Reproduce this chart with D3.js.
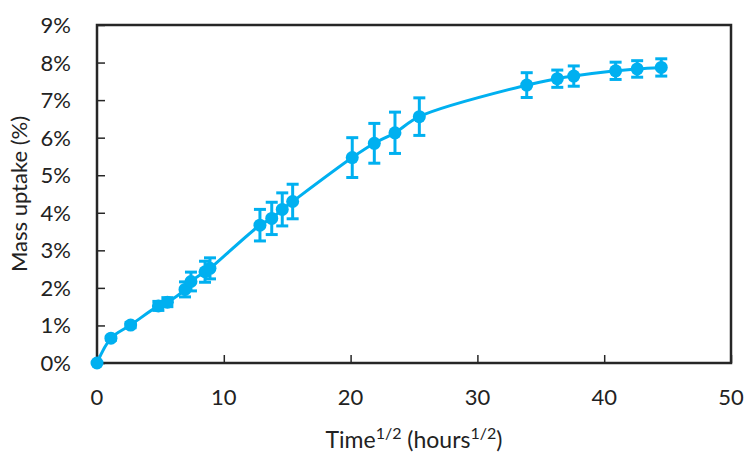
<!DOCTYPE html>
<html>
<head>
<meta charset="utf-8">
<script src="https://cdn.jsdelivr.net/npm/d3@7"></script>
<style>
  body { margin: 0; background: #fff; }
  text { font-family: Lato, "Open Sans", sans-serif; fill: #222; }
</style>
</head>
<body>
<div id="plot"></div>
<script>
// sqrt(time) in hours^1/2
const timeRoot = [0, 1.1, 2.65, 4.84, 5.55, 6.94, 7.41, 8.52, 8.91, 12.85, 13.78, 14.61, 15.43,
                  20.13, 21.87, 23.5, 25.42, 33.89, 36.3, 37.6, 40.9, 42.6, 44.5];
// mass uptake, %
const uptake = [0, 0.66, 1.01, 1.52, 1.62, 1.96, 2.17, 2.43, 2.52, 3.67, 3.85, 4.09, 4.30,
                5.47, 5.85, 6.13, 6.56, 7.40, 7.57, 7.64, 7.78, 7.83, 7.87];
// error, %
const uptakeErr = [0, 0.05, 0.07, 0.12, 0.12, 0.2, 0.25, 0.28, 0.28, 0.42, 0.43, 0.44, 0.46,
                   0.53, 0.53, 0.55, 0.5, 0.33, 0.23, 0.27, 0.23, 0.22, 0.23];
const xTicks = [0, 10, 20, 30, 40, 50];
const yTicks = [0, 1, 2, 3, 4, 5, 6, 7, 8, 9];

const width = 752, height = 457;
const margin = {top: 25, right: 21, bottom: 94, left: 97};
const blue = '#00B0F0';

const svg = d3.select('#plot').append('svg')
    .attr('width', width)
    .attr('height', height);

const x = d3.scaleLinear().domain([0, 50]).range([margin.left, width - margin.right]);
const y = d3.scaleLinear().domain([0, 9]).range([height - margin.bottom, margin.top]);

const points = timeRoot.map((t, i) => ({t, v: uptake[i], e: uptakeErr[i]}));

// axes with inward ticks
const xAxis = svg.append('g')
    .attr('transform', `translate(0,${y(0)})`)
    .call(d3.axisTop(x).tickValues(xTicks).tickSize(8).tickFormat(''));
const yAxis = svg.append('g')
    .attr('transform', `translate(${x(0)},0)`)
    .call(d3.axisRight(y).tickValues(yTicks).tickSize(8).tickFormat(''));
[xAxis, yAxis].forEach(g => {
    g.select('.domain').remove();
    g.selectAll('line').attr('stroke', '#262626').attr('stroke-width', 1.5);
});

// frame
svg.append('rect')
    .attr('x', x(0)).attr('y', y(9))
    .attr('width', x(50) - x(0)).attr('height', y(0) - y(9))
    .attr('fill', 'none').attr('stroke', '#262626').attr('stroke-width', 2.5);

// tick labels
svg.selectAll('.xl').data(xTicks).enter().append('text')
    .attr('x', d => x(d)).attr('y', 405)
    .attr('text-anchor', 'middle').attr('font-size', '22px')
    .text(d => d);
svg.selectAll('.yl').data(yTicks).enter().append('text')
    .attr('x', 71).attr('y', d => y(d) + 8)
    .attr('text-anchor', 'end').attr('font-size', '22px')
    .text(d => d + '%');

// axis titles
const xt = svg.append('text')
    .attr('x', (x(0) + x(50)) / 2).attr('y', 448)
    .attr('text-anchor', 'middle').attr('font-size', '23px');
xt.append('tspan').text('Time');
xt.append('tspan').text('1/2').attr('font-size', '16px').attr('dy', -9);
xt.append('tspan').text(' (hours').attr('dy', 9);
xt.append('tspan').text('1/2').attr('font-size', '16px').attr('dy', -9);
xt.append('tspan').text(')').attr('dy', 9);

svg.append('text')
    .attr('transform', `translate(27,${(y(0) + y(9)) / 2}) rotate(-90)`)
    .attr('text-anchor', 'middle').attr('font-size', '22px')
    .text('Mass uptake (%)');

// line
const line = d3.line().x(d => x(d.t)).y(d => y(d.v)).curve(d3.curveCatmullRom.alpha(0.5));
svg.append('path').datum(points)
    .attr('d', line)
    .attr('fill', 'none').attr('stroke', blue).attr('stroke-width', 3);

// error bars
const eb = svg.selectAll('.eb').data(points.filter(d => d.e > 0)).enter().append('g');
eb.append('line')
    .attr('x1', d => x(d.t)).attr('x2', d => x(d.t))
    .attr('y1', d => y(d.v - d.e)).attr('y2', d => y(d.v + d.e))
    .attr('stroke', blue).attr('stroke-width', 3);
[-1, 1].forEach(s => {
    eb.append('line')
        .attr('x1', d => x(d.t) - 6).attr('x2', d => x(d.t) + 6)
        .attr('y1', d => y(d.v + s * d.e)).attr('y2', d => y(d.v + s * d.e))
        .attr('stroke', blue).attr('stroke-width', 3);
});

// markers
svg.selectAll('.pt').data(points).enter().append('circle')
    .attr('cx', d => x(d.t)).attr('cy', d => y(d.v))
    .attr('r', 6.5).attr('fill', blue);
</script>
</body>
</html>
